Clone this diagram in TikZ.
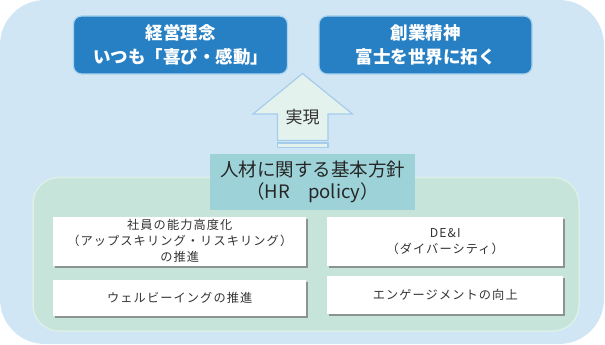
\documentclass[tikz,border=0pt]{standalone}
\usepackage{fontspec}
\setmainfont{Noto Sans CJK JP}
\newfontfamily\spacedfont{Noto Sans CJK JP}[LetterSpace=9]
\usetikzlibrary{shadows}
\definecolor{outerblue}{HTML}{D1E6F4}
\definecolor{darkblue}{HTML}{2780C3}
\definecolor{darkedge}{HTML}{A9D3EE}
\definecolor{tealbox}{HTML}{9DD3D8}
\definecolor{greenbg}{HTML}{C6E4D9}
\definecolor{greenedge}{HTML}{DCEFE8}
\definecolor{arrowfill}{HTML}{E4F2EE}
\definecolor{arrowedge}{HTML}{A6CCEC}
\definecolor{txt}{HTML}{333333}
\tikzset{
  topbox/.style={draw=darkedge, line width=1.2pt, fill=darkblue, rounded corners=8pt,
    text=white, font=\fontsize{17.5}{24}\selectfont\bfseries, align=center, inner sep=0pt},
  policybox/.style={fill=tealbox, text=black!85, font=\fontsize{18.5}{22}\selectfont,
    align=center, inner sep=0pt},
  itembox/.style={fill=white, text=txt, font=\spacedfont\fontsize{12.2}{16}\selectfont,
    align=center, inner sep=0pt,
    drop shadow={shadow xshift=2pt, shadow yshift=-2.2pt, fill=black!55, opacity=0.7}},
}
\begin{document}
\begin{tikzpicture}[x=1pt,y=-1pt]
\useasboundingbox (0,0) rectangle (605,345);
% outer background
\fill[outerblue, rounded corners=45pt] (0,0) rectangle (604,344);
% green area
\draw[greenedge, fill=greenbg, line width=1.5pt, rounded corners=26pt] (33,177.5) rectangle (579,331);
% top boxes
\node[topbox, minimum width=214pt, minimum height=58pt] (rinen) at (180.5,45)
  {経営理念\\いつも「喜び・感動」};
\node[topbox, minimum width=213pt, minimum height=58pt] (seishin) at (425.5,45)
  {創業精神\\富士を世界に拓く};
% arrow
\coordinate (tip) at (302.5,73.5);
\coordinate (hl) at (253,114);
\coordinate (hr) at (352.5,114);
\coordinate (sl) at (277.5,114);
\coordinate (sr) at (328,114);
\coordinate (bl) at (277.5,140.5);
\coordinate (br) at (328,140.5);
\draw[arrowedge, fill=arrowfill, line width=1.2pt, line join=miter]
  (tip) -- (hr) -- (sr) -- (br) -- (bl) -- (sl) -- (hl) -- cycle;
\draw[arrowedge, fill=arrowfill, line width=1.2pt] (277.5,143) rectangle (328,147.5);
\node[text=txt, font=\fontsize{17}{20}\selectfont] (jitsugen) at (302.5,117) {実現};
% policy box
\node[policybox, minimum width=205pt, minimum height=56pt] (policy) at (312.5,182)
  {人材に関する基本方針\\（HR\hspace{1em}policy）};
% item boxes
\node[itembox, minimum width=253pt, minimum height=49pt] (skill) at (179.75,241.2)
  {社員の能力高度化\\（アップスキリング・リスキリング）\\の推進};
\node[itembox, minimum width=236pt, minimum height=49pt] (dei) at (445.25,241.5)
  {DE\&I\\（ダイバーシティ）};
\node[itembox, minimum width=253pt, minimum height=36pt] (well) at (179.75,298)
  {ウェルビーイングの推進};
\node[itembox, minimum width=236pt, minimum height=38pt] (eng) at (445.25,295)
  {エンゲージメントの向上};
\end{tikzpicture}
\end{document}
